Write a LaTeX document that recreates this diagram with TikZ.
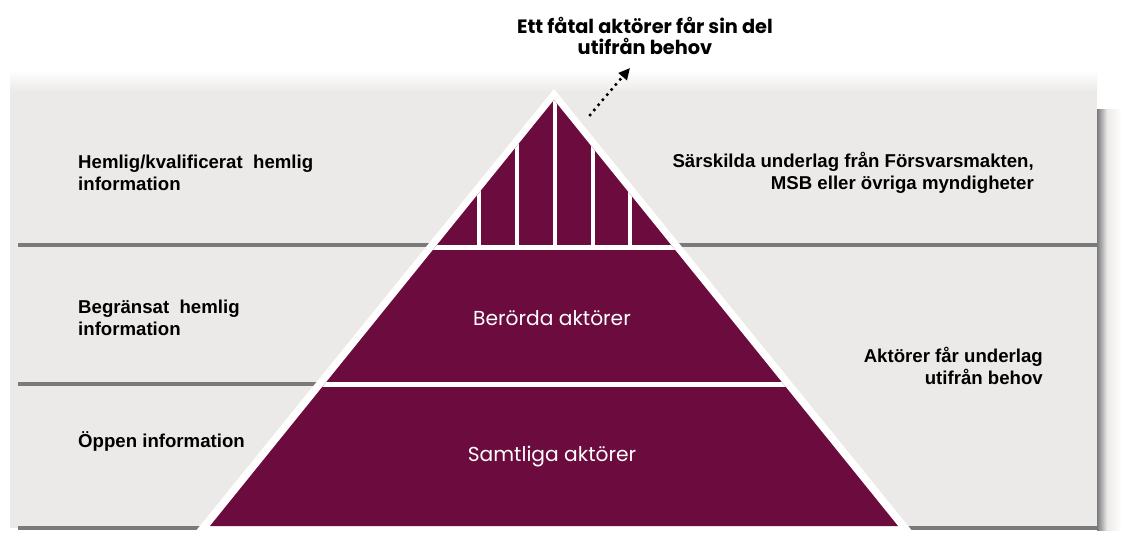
\documentclass[tikz,border=0pt]{standalone}
\usepackage{fontspec}
\setmainfont{Liberation Sans}
\newfontfamily\gothic{Poppins}
\usetikzlibrary{arrows.meta}

\definecolor{maroon}{RGB}{108,12,62}
\definecolor{sheet}{RGB}{236,234,233}
\definecolor{seam}{RGB}{122,122,124}

\begin{document}
\begin{tikzpicture}[x=0.02cm,y=-0.02cm,
    side/.style={font=\bfseries\fontsize{10.6}{12.6}\selectfont},
    lvl/.style={font=\gothic\fontsize{11.5}{13}\selectfont,text=white},
    gap/.style={white,line width=4.5*0.02cm}]
    \useasboundingbox (0,0) rectangle (1129,537);
    % the three sheets
    \fill[sheet] (10,88) rectangle (1097,528);
    \shade[top color=white,bottom color=sheet] (10,70) rectangle (1097,92);
    \shade[left color=seam,right color=sheet] (1097,110) rectangle (1107,530);
    \shade[left color=sheet,right color=white] (1107,110) rectangle (1122,530);
    \draw[seam,line width=4*0.02cm] (18,245) -- (1097,245);
    \draw[seam,line width=4*0.02cm] (18,384) -- (560,384);
    \draw[seam,line width=4*0.02cm] (18,528) -- (1097,528);
    % pyramid
    \coordinate (apex) at (554,100);
    \coordinate (bl) at (210,526);
    \coordinate (br) at (898,526);
    \fill[white] (554,89) -- (195,532) -- (913,532) -- cycle;
    \fill[maroon] (apex) -- (bl) -- (br) -- cycle;
    \begin{scope}
        \clip (apex) -- (bl) -- (br) -- cycle;
        \foreach \x in {479,517,555,593,630}
            \draw[gap] (\x,90) -- (\x,247);
        \draw[gap] (150,247.5) -- (950,247.5);
        \draw[gap] (150,384.5) -- (950,384.5);
    \end{scope}
    \node[lvl] (berorda) at (552,318) {Berörda aktörer};
    \node[lvl] (samtliga) at (552,457) {Samtliga aktörer};
    % labels left
    \node[side,align=left,anchor=west] (hemlig) at (72,173) {Hemlig/kvalificerat\ \ hemlig\\information};
    \node[side,align=left,anchor=west] (begr) at (72,318) {Begränsat\ \ hemlig\\information};
    \node[side,anchor=west] (oppen) at (72,441) {Öppen information};
    % labels right
    \node[side,align=right,anchor=east] (sarskilda) at (1040,173) {Särskilda underlag från Försvarsmakten,\\MSB eller övriga myndigheter};
    \node[side,align=right,anchor=east] (underlag) at (1049,366) {Aktörer får underlag\\utifrån behov};
    % the few
    \node[font=\gothic\bfseries\fontsize{11}{12.3}\selectfont,align=center] (fatal) at (645,36) {Ett fåtal aktörer får sin del\\utifrån behov};
    \coordinate (dotstart) at (590,115);
    \coordinate (dotend) at (630,68);
    \draw[line width=2pt,line cap=round,dash pattern=on 0pt off 3.8pt,-{Triangle[length=6.5pt,width=6pt]}] (dotstart) -- (dotend);
\end{tikzpicture}
\end{document}
